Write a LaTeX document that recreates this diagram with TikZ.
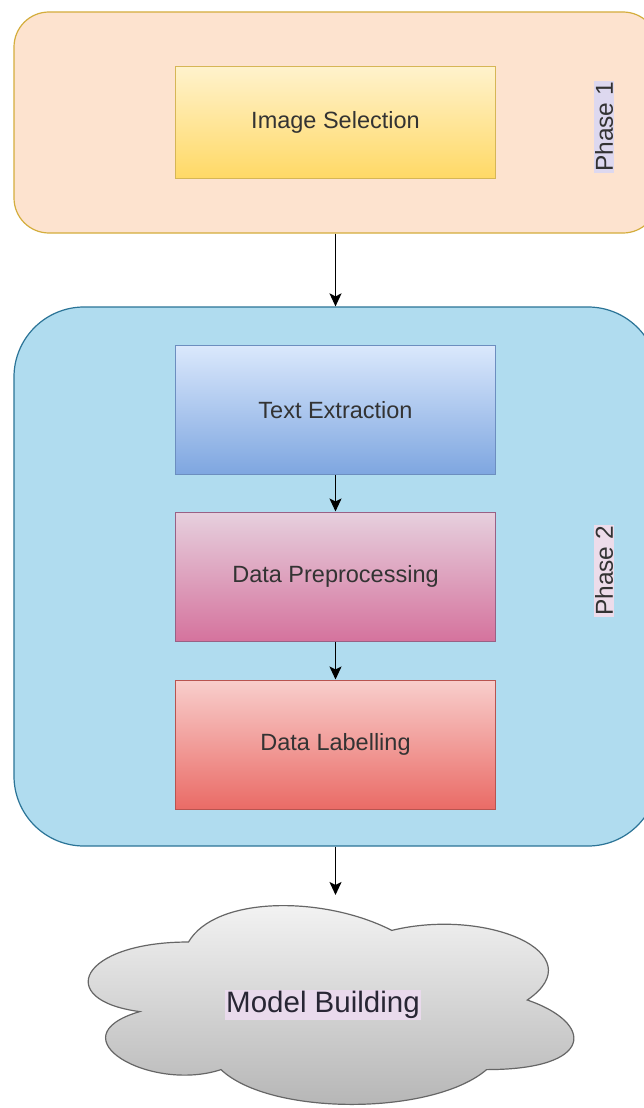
\documentclass[tikz,border=0pt]{standalone}
\usepackage{fontspec}
\setmainfont{Liberation Sans}
\usetikzlibrary{arrows.meta}
\definecolor{txtgrey}{HTML}{333333}
\definecolor{phaseAfill}{HTML}{FDE3CF}
\definecolor{phaseAline}{HTML}{D4AD3C}
\definecolor{phaseBfill}{HTML}{B0DCEF}
\definecolor{phaseBline}{HTML}{2B7497}
\definecolor{labelA}{HTML}{DDD8EF}
\definecolor{labelB}{HTML}{EDDCEA}
\definecolor{labelC}{HTML}{E9DAEC}
\tikzset{
  phasebox/.style={draw, line width=1.2pt, rounded corners=#1, minimum width=644pt, inner sep=0pt},
  stepbox/.style={draw, line width=1pt, minimum width=320pt, minimum height=129pt,
    inner sep=0pt, font=\fontsize{23.5}{28}\selectfont, text=txtgrey},
  phaselabel/.style={rotate=90, inner sep=1pt, font=\fontsize{24.5}{28}\selectfont, text=txtgrey},
  flow/.style={line width=1.6pt, -{Stealth[length=13pt,width=12pt,inset=3pt]}}
}
\begin{document}
\begin{tikzpicture}[x=1pt,y=-1pt]
\useasboundingbox (0,0) rectangle (643,1108);
\fill[white] (0,0) rectangle (643,1108);

% phase containers
\node[phasebox=35pt, fill=phaseAfill, draw=phaseAline, minimum height=221pt] (p1) at (336,122.5) {};
\node[phasebox=70pt, fill=phaseBfill, draw=phaseBline, minimum height=539pt] (p2) at (336,576.5) {};

% phase captions
\node[phaselabel, fill=labelA] (l1) at (604,127) {Phase 1};
\node[phaselabel, fill=labelB] (l2) at (604,571) {Phase 2};

% steps
\node[stepbox, minimum height=111pt, top color={rgb,255:red,255;green,242;blue,204}, bottom color={rgb,255:red,255;green,217;blue,102},
  draw={rgb,255:red,214;green,182;blue,86}] (img) at (335.5,122.5) {Image Selection};
\node[stepbox, top color={rgb,255:red,218;green,232;blue,252}, bottom color={rgb,255:red,126;green,166;blue,224},
  draw={rgb,255:red,108;green,142;blue,191}] (txt) at (335.5,410) {Text Extraction};
\node[stepbox, top color={rgb,255:red,230;green,208;blue,222}, bottom color={rgb,255:red,213;green,115;blue,157},
  draw={rgb,255:red,153;green,97;blue,133}] (pre) at (335.5,576.5) {Data Preprocessing};
\node[stepbox, top color={rgb,255:red,248;green,206;blue,204}, bottom color={rgb,255:red,234;green,107;blue,102},
  draw={rgb,255:red,184;green,84;blue,80}] (lab) at (335.5,744.5) {Data Labelling};

% cloud
\draw[line width=1.2pt, draw={rgb,255:red,102;green,102;blue,102},
  top color={rgb,255:red,245;green,245;blue,245}, bottom color={rgb,255:red,179;green,179;blue,179}]
  (188.5,942)
  .. controls (80.1,942) and (53,1000) .. (139.7,1011.6)
  .. controls (53,1037.1) and (150.6,1092.8) .. (221,1069.6)
  .. controls (269.8,1116) and (432.4,1116) .. (486.6,1069.6)
  .. controls (595,1069.6) and (595,1023.2) .. (527.3,1000)
  .. controls (595,953.6) and (486.6,907.2) .. (391.8,930.4)
  .. controls (324,895.6) and (215.6,895.6) .. (188.5,942) -- cycle;
\node[fill=labelC, inner sep=1pt, font=\fontsize{29.5}{34}\selectfont, text={rgb,255:red,40;green,38;blue,52}] (cloud) at (323,1005) {Model Building};
\coordinate (cloudtop) at (335.5,895);

% connectors
\draw[flow] (p1.south -| img.south) -- (p2.north -| img.south);
\draw[flow] (txt) -- (pre);
\draw[flow] (pre) -- (lab);
\draw[flow] (p2.south -| img.south) -- (cloudtop);
\end{tikzpicture}
\end{document}
